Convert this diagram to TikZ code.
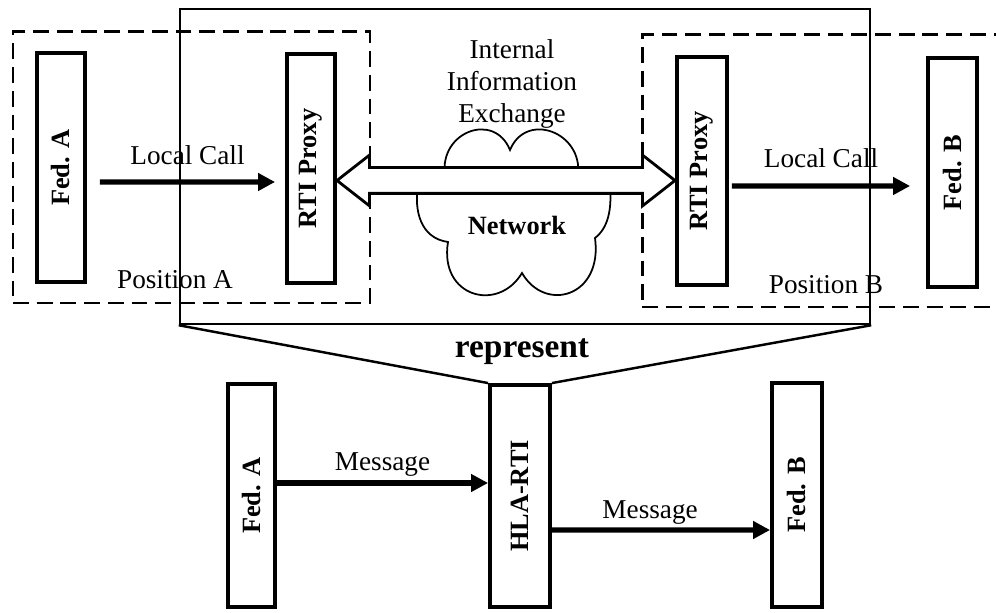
\documentclass[tikz,border=0pt]{standalone}
\usepackage{fontspec}
\setmainfont{Liberation Serif}
\usetikzlibrary{arrows.meta,shapes.arrows,calc}

\begin{document}
\begin{tikzpicture}[
  fedbox/.style={draw, line width=2.2pt, inner sep=0pt, font=\fontsize{15}{18}\selectfont\bfseries},
  posbox/.style={draw, line width=1.7pt, dash pattern=on 9pt off 4.5pt, inner sep=0pt},
  callarrow/.style={line width=3pt, -{Triangle[length=0.34cm,width=0.34cm]}},
  lbl/.style={font=\fontsize{15.5}{18}\selectfont}
]
% Canvas: 996 x 612 px at 0.02cm per px
\useasboundingbox (0,0) rectangle (19.92,12.24);
\clip (0,0) rectangle (19.92,12.24);

% Dashed position boxes (B runs off the right edge)
\node[posbox, minimum width=7.14cm, minimum height=5.42cm] (posA) at (3.83,8.89) {};
\node[posbox, minimum width=7.36cm, minimum height=5.44cm] (posB) at (16.52,8.82) {};

% Solid frame round the distributed RTI
\node[draw, line width=1.4pt, inner sep=0pt, minimum width=13.8cm, minimum height=6.3cm] (frame) at (10.5,8.91) {};

% Top row: federates and proxies
\node[fedbox, minimum width=0.96cm, minimum height=4.58cm] (fedA) at (1.22,8.89) {\rotatebox{90}{Fed. A}};
\node[fedbox, minimum width=0.96cm, minimum height=4.58cm] (proxyA) at (6.22,8.87) {\rotatebox{90}{RTI Proxy}};
\node[fedbox, minimum width=1.0cm, minimum height=4.56cm] (proxyB) at (14.04,8.82) {\rotatebox{90}{RTI Proxy}};
\node[fedbox, minimum width=0.98cm, minimum height=4.58cm] (fedB) at (19.05,8.79) {\rotatebox{90}{Fed. B}};

% Network cloud (hidden behind the exchange arrow)
\draw[line width=1pt] (8.90,8.74) .. controls (8.78,9.60) and (9.88,10.02) .. (10.20,9.24)
  .. controls (10.52,10.02) and (11.66,9.60) .. (11.56,8.74)
  -- (12.20,8.54)
  .. controls (12.24,8.04) and (12.16,7.68) .. (11.90,7.48)
  .. controls (12.06,6.30) and (10.90,5.98) .. (10.44,6.78)
  .. controls (9.96,5.98) and (8.78,6.30) .. (8.96,7.40)
  .. controls (8.40,7.48) and (8.28,8.04) .. (8.36,8.54)
  -- cycle;

% Internal exchange arrow
\node[double arrow, draw, fill=white, line width=1.6pt, inner xsep=0pt, inner ysep=0.23cm,
  minimum height=6.76cm, minimum width=0.96cm,
  double arrow head extend=0.25cm, double arrow tip angle=76] (xchg)
  at ($(proxyA.east)!0.5!(proxyB.west)+(0,-0.215)$) {};

\node[lbl, align=center] (info) at (10.24,10.56) {Internal\\Information\\Exchange};
\node[font=\fontsize{15}{18}\selectfont\bfseries] (net) at (10.34,7.74) {Network};

% Local calls
\draw[callarrow] ($(fedA.east)+(0.26,-0.29)$) -- ($(proxyA.west)+(-0.2,-0.27)$)
  node[midway, lbl, yshift=0.54cm] {Local Call};
\draw[callarrow] ($(proxyB.east)+(0.06,-0.30)$) -- ($(fedB.west)+(-0.32,-0.27)$)
  node[midway, lbl, yshift=0.56cm] {Local Call};

\node[lbl] (posAtext) at (3.50,6.64) {Position A};
\node[lbl] (posBtext) at (16.52,6.54) {Position B};

% Bottom row: logical view
\node[fedbox, minimum width=0.94cm, minimum height=4.46cm] (fedA2) at (5.03,2.33) {\rotatebox{90}{Fed. A}};
\node[fedbox, minimum width=1.2cm, minimum height=4.44cm] (hla) at (10.40,2.32) {\rotatebox{90}{HLA-RTI}};
\node[fedbox, minimum width=1.0cm, minimum height=4.48cm] (fedB2) at (15.94,2.34) {\rotatebox{90}{Fed. B}};

% Funnel from the frame down to the HLA-RTI
\draw[line width=1.4pt] (frame.south west) -- (hla.north west);
\draw[line width=1.4pt] (frame.south east) -- (hla.north east);
\node[font=\fontsize{19}{22}\selectfont\bfseries] (rep) at (10.44,5.20) {represent};

% Messages
\draw[callarrow] ($(fedA2.east)+(0,0.25)$) -- ($(hla.west)+(0,0.26)$)
  node[midway, lbl, yshift=0.36cm] {Message};
\draw[callarrow] ($(hla.east)+(0,-0.68)$) -- ($(fedB2.west)+(0,-0.70)$)
  node[pos=0.45, lbl, yshift=0.34cm] {Message};
\end{tikzpicture}
\end{document}
